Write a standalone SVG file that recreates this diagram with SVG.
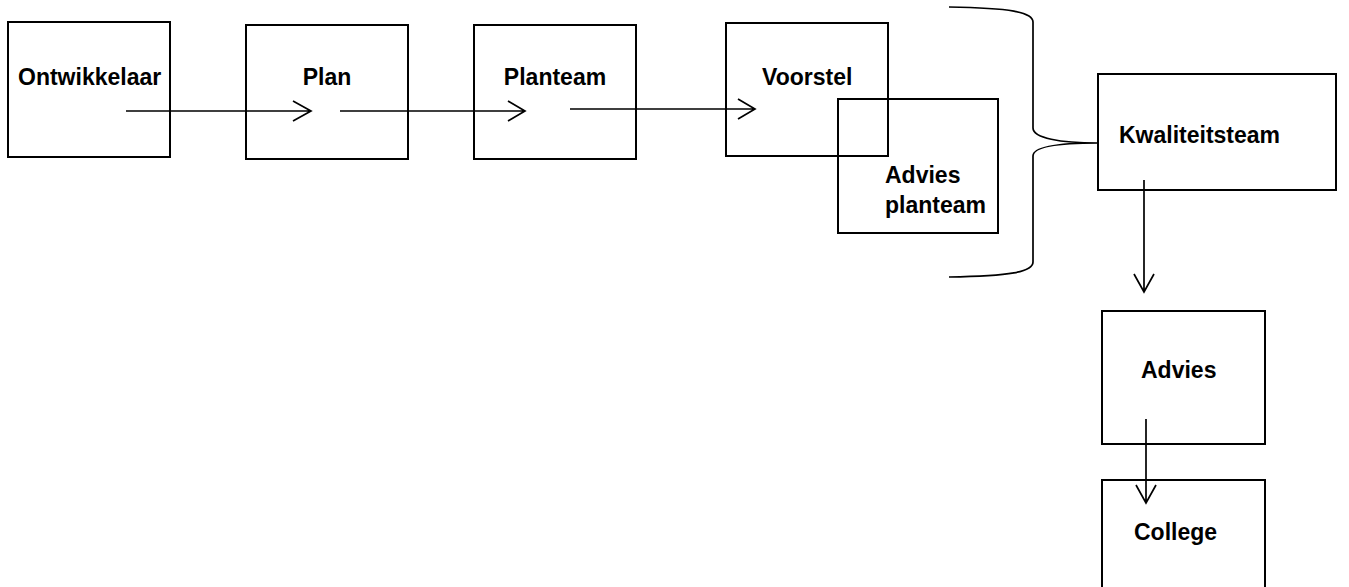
<svg xmlns="http://www.w3.org/2000/svg" width="1349" height="587" viewBox="0 0 1349 587">
<style>
.box{fill:none;stroke:#000;stroke-width:2}
.lbl{font-family:"Liberation Sans",Arial,sans-serif;font-weight:bold;font-size:23px;fill:#000}
.con{fill:none;stroke:#000;stroke-width:1.7}
</style>
<rect width="1349" height="587" fill="#fff"/>
<g id="node-ontwikkelaar"><rect class="box" x="8" y="22" width="162" height="135"/><text class="lbl" x="18" y="85">Ontwikkelaar</text></g>
<g id="node-plan"><rect class="box" x="246" y="25" width="162" height="134"/><text class="lbl" x="327" y="85" text-anchor="middle">Plan</text></g>
<g id="node-planteam"><rect class="box" x="474" y="25" width="162" height="134"/><text class="lbl" x="555" y="85" text-anchor="middle">Planteam</text></g>
<g id="node-voorstel"><rect class="box" x="726" y="23" width="162" height="133"/><text class="lbl" x="762" y="85">Voorstel</text></g>
<g id="node-advies-planteam"><rect class="box" x="838" y="99" width="160" height="134"/><text class="lbl" x="885" y="183">Advies</text><text class="lbl" x="885" y="213">planteam</text></g>
<g id="node-kwaliteitsteam"><rect class="box" x="1098" y="74" width="238" height="116"/><text class="lbl" x="1119" y="143">Kwaliteitsteam</text></g>
<g id="node-advies"><rect class="box" x="1102" y="311" width="163" height="133"/><text class="lbl" x="1141" y="378">Advies</text></g>
<g id="node-college"><path class="box" d="M1102,590 V480 H1265 V590"/><text class="lbl" x="1134" y="540">College</text></g>
<g id="connectors">
<path class="con" d="M126,111 H311 M293,101 L311,111 L293,121"/>
<path class="con" d="M340,111 H525 M508,101 L525,111 L508,121"/>
<path class="con" d="M570,109 H755 M738,99 L755,109 L738,119"/>
<path class="con" d="M949,7 C1010,8 1033,12 1033,22 V128 C1033,138 1060,143 1098,143 C1060,143 1033,146 1033,156 V262 C1033,272 1010,276 949,277"/>
<path class="con" d="M1144,180 V292 M1134,274 L1144,292 L1154,274"/>
<path class="con" d="M1146,419 V503 M1136,485 L1146,503 L1156,485"/>
</g>
</svg>
